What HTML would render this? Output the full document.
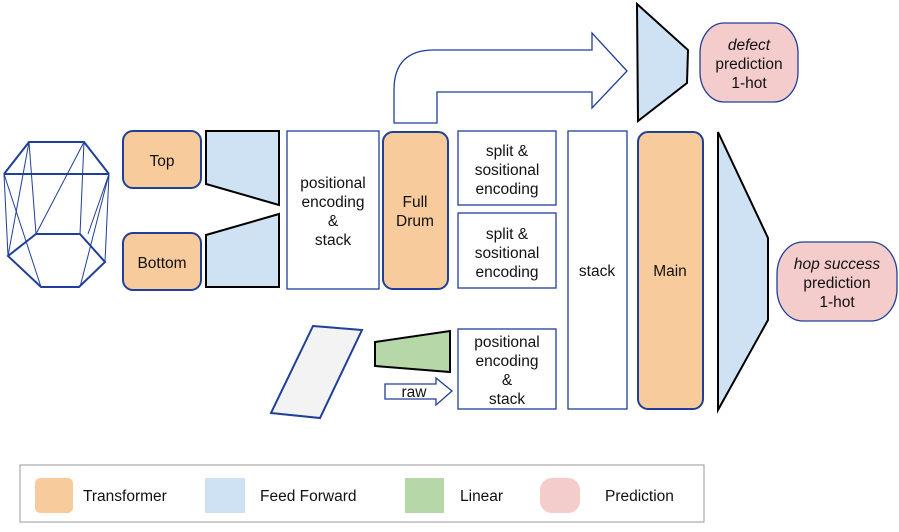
<!DOCTYPE html>
<html><head><meta charset="utf-8"><style>
body{margin:0;background:#fff;}
svg text{font-family:"Liberation Sans",Arial,sans-serif;font-size:15.5px;fill:#111;text-anchor:middle;}
</style></head><body>
<svg width="899" height="527" viewBox="0 0 899 527" xmlns="http://www.w3.org/2000/svg">
<g stroke="#1f3f99" fill="none">
<line x1="29" y1="142" x2="8" y2="256"/>
<line x1="29" y1="142" x2="36" y2="234"/>
<line x1="84" y1="142" x2="36" y2="234"/>
<line x1="84" y1="142" x2="80" y2="234"/>
<line x1="4" y1="174" x2="41" y2="287"/>
<line x1="4" y1="174" x2="8" y2="256"/>
<line x1="109" y1="174" x2="80" y2="287"/>
<line x1="109" y1="174" x2="88" y2="234"/>
<line x1="109" y1="174" x2="105" y2="262"/>
<polygon points="36,234 80,234 105,262 79,287 41,287 8,256" stroke-width="2"/>
<polyline points="4,174 109,174" stroke-width="2"/>
<polyline points="4,174 29,142 84,142 109,174" stroke-width="2"/>
</g>
<g stroke="#1f3f99" stroke-width="2" fill="#f8cb9c">
<rect x="123" y="131" width="78" height="57" rx="10"/>
<rect x="123" y="233" width="78" height="57" rx="10"/>
<rect x="383" y="132" width="65" height="157" rx="10"/>
<rect x="638" y="132" width="65" height="277" rx="10"/>
</g>
<g stroke="#000" stroke-width="2" fill="#cfe2f3">
<polygon points="206,131 279,131 279,205 206,184"/>
<polygon points="206,235 279,214 279,287 206,287"/>
<polygon points="637,4 688,50 687,83 638,121"/>
<polygon points="718,132 768,238 768,320 718,410"/>
</g>
<polygon points="375,342 450,331 450,372 375,366" fill="#b6d7a8" stroke="#000" stroke-width="2"/>
<polygon points="313,326 362,330 320,418 271,413" fill="#f3f3f3" stroke="#1f3f99" stroke-width="2"/>
<g stroke="#1f3f99" stroke-width="1.3" fill="#fff">
<rect x="287" y="131" width="92" height="158"/>
<rect x="458" y="131" width="98" height="74"/>
<rect x="458" y="213" width="98" height="75"/>
<rect x="458" y="329" width="98" height="80"/>
<rect x="568" y="131" width="59" height="278"/>
<path d="M394,123 L394,90 Q394,50 434,50 L592,50 L592,33 L627,71 L592,108 L592,92 L437,92 L437,123 Z"/>
<path d="M385,384 L436,384 L436,378 L452,391 L436,405 L436,399 L385,399 Z"/>
</g>
<g stroke="#1f3f99" stroke-width="1.3" fill="#f4cccc">
<rect x="700" y="23" width="98" height="79" rx="24" ry="30"/>
<rect x="777" y="242" width="120" height="79" rx="26" ry="32"/>
</g>
<text x="162" y="166">Top</text>
<text x="162" y="268">Bottom</text>
<text x="333" y="188">positional</text>
<text x="333" y="207">encoding</text>
<text x="333" y="226">&amp;</text>
<text x="333" y="245">stack</text>
<text x="415" y="207">Full</text>
<text x="415" y="226">Drum</text>
<text x="507" y="156">split &amp;</text>
<text x="507" y="175">sositional</text>
<text x="507" y="194">encoding</text>
<text x="507" y="239">split &amp;</text>
<text x="507" y="258">sositional</text>
<text x="507" y="277">encoding</text>
<text x="507" y="347">positional</text>
<text x="507" y="366">encoding</text>
<text x="507" y="385">&amp;</text>
<text x="507" y="404">stack</text>
<text x="597" y="276">stack</text>
<text x="670" y="276">Main</text>
<text x="414" y="397">raw</text>
<text x="749" y="50" font-style="italic">defect</text>
<text x="749" y="69">prediction</text>
<text x="749" y="88">1-hot</text>
<text x="837" y="269" font-style="italic">hop success</text>
<text x="837" y="288">prediction</text>
<text x="837" y="307">1-hot</text>
<rect x="20" y="465" width="684" height="57" fill="#fff" stroke="#999" stroke-width="1"/>
<rect x="35" y="478" width="38" height="35" rx="5" fill="#f8cb9c"/>
<rect x="205" y="478" width="40" height="35" fill="#cfe2f3"/>
<rect x="405" y="478" width="39" height="35" fill="#b6d7a8"/>
<rect x="540" y="478" width="40" height="35" rx="12" fill="#f4cccc"/>
<text x="83" y="501" style="text-anchor:start">Transformer</text>
<text x="260" y="501" style="text-anchor:start">Feed Forward</text>
<text x="460" y="501" style="text-anchor:start">Linear</text>
<text x="605" y="501" style="text-anchor:start">Prediction</text>
</svg>
</body></html>
